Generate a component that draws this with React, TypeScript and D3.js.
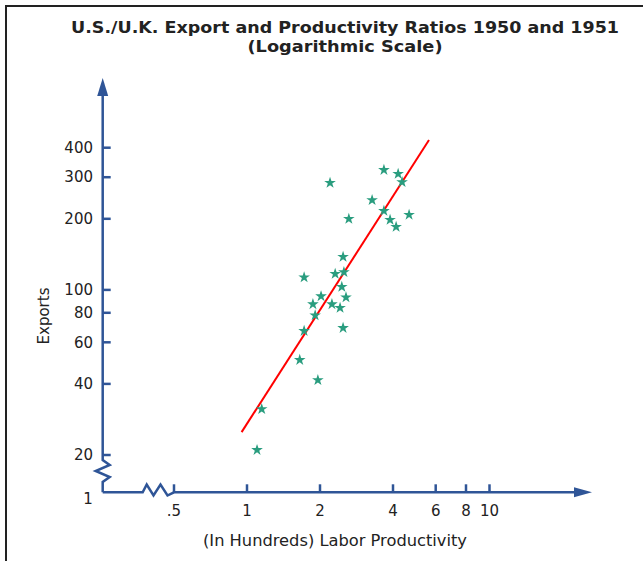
import React from "react";
import * as d3 from "d3";

// labor productivity ratio (hundreds) and export ratio, US/UK 1950-51
const productivity = [
  3.67, 4.2, 4.36, 2.2, 3.28, 3.67, 4.66, 3.89, 4.12, 2.63,
  2.49, 1.72, 2.31, 2.51, 2.46, 2.56, 2.02, 1.87, 2.24, 2.42,
  1.91, 1.72, 2.49, 1.65, 1.96, 1.15, 1.1,
];
const exportsRatio = [
  322, 310, 286, 284, 240, 216, 208, 198, 185, 200,
  138, 113, 117, 119, 103, 93, 94, 87, 87, 84,
  78, 67, 69, 50.5, 41.5, 31.3, 21,
];
// fitted line end points
const fitX = [0.95, 5.63];
const fitY = [25, 431];

const xTicks = [0.5, 1, 2, 4, 6, 8, 10];
const xTickLabels = [".5", "1", "2", "4", "6", "8", "10"];
const yTicks = [20, 40, 60, 80, 100, 200, 300, 400];

const W = 643;
const H = 561;
const axisCol = "#2f5597";
const textCol = "#222";
const font = "DejaVu Sans, Verdana, sans-serif";

const App = () => {
  const x = d3.scaleLog().domain([1, 10]).range([247, 489.5]);
  const y = d3.scaleLog().domain([20, 400]).range([455, 147.7]);

  const ox = 102.7; // y axis position
  const oy = 492.3; // x axis position

  const star = d3.symbol(d3.symbolStar, 42)();
  const line = d3.line<number>().x((d) => x(d)).y((_, i) => y(fitY[i]));

  // axis paths with breaks
  const yAxisPath = `M${ox},92 L${ox},460 L${ox + 7},465 L${ox - 7},471 L${ox + 7},477 L${ox},482 L${ox},${oy}`;
  const xAxisPath = `M${ox},${oy} L142.7,${oy} L146.7,484.5 L153.5,495.5 L160.5,484.5 L167.5,495.5 L${x(0.5)},${oy} L577,${oy}`;

  return (
    <svg width={W} height={H} style={{ position: "absolute", left: 0, top: 0 }} fontFamily={font}>
      <rect width={W} height={H} fill="#fff" />
      {/* frame */}
      <path d={`M6,${H} L6,6 L${W},6`} fill="none" stroke="#222" strokeWidth={2} />

      {/* title */}
      <text x={345} y={33} textAnchor="middle" fontSize={16.5} fontWeight="bold" fill={textCol}
        textLength={548} lengthAdjust="spacingAndGlyphs">
        U.S./U.K. Export and Productivity Ratios 1950 and 1951
      </text>
      <text x={345} y={52} textAnchor="middle" fontSize={16.5} fontWeight="bold" fill={textCol}
        textLength={195} lengthAdjust="spacingAndGlyphs">
        (Logarithmic Scale)
      </text>

      {/* axes */}
      <path d={yAxisPath} fill="none" stroke={axisCol} strokeWidth={2.5} strokeLinejoin="miter" />
      <path d={xAxisPath} fill="none" stroke={axisCol} strokeWidth={2.5} />
      <path d={`M${ox},78 L${ox + 5.5},96 L${ox - 5.5},96 Z`} fill={axisCol} />
      <path d={`M592,${oy} L574,${oy - 5} L574,${oy + 5} Z`} fill={axisCol} />

      {yTicks.map((t) => (
        <g key={t}>
          <line x1={ox} x2={ox + 8} y1={y(t)} y2={y(t)} stroke={axisCol} strokeWidth={2.5} />
          <text x={93} y={y(t)} dy="0.35em" textAnchor="end" fontSize={15} fill={textCol}>
            {t}
          </text>
        </g>
      ))}
      {xTicks.map((t, i) => (
        <g key={t}>
          <line x1={x(t)} x2={x(t)} y1={oy} y2={oy - 8} stroke={axisCol} strokeWidth={2.5} />
          <text x={x(t)} y={516} textAnchor="middle" fontSize={15} fill={textCol}>
            {xTickLabels[i]}
          </text>
        </g>
      ))}
      <text x={88} y={504} textAnchor="middle" fontSize={15} fill={textCol}>1</text>

      {/* axis titles */}
      <text x={335} y={546} textAnchor="middle" fontSize={16} fill={textCol}
        textLength={264} lengthAdjust="spacingAndGlyphs">
        (In Hundreds) Labor Productivity
      </text>
      <text transform="translate(49,316) rotate(-90)" textAnchor="middle" fontSize={15} fill={textCol}>
        Exports
      </text>

      {/* regression line */}
      <path d={line(fitX) || ""} fill="none" stroke="#ff0000" strokeWidth={2} />

      {/* points */}
      {productivity.map((p, i) => (
        <path key={i} d={star || ""} transform={`translate(${x(p)},${y(exportsRatio[i])})`} fill="#2a9d7f" />
      ))}
    </svg>
  );
};

export default App;
